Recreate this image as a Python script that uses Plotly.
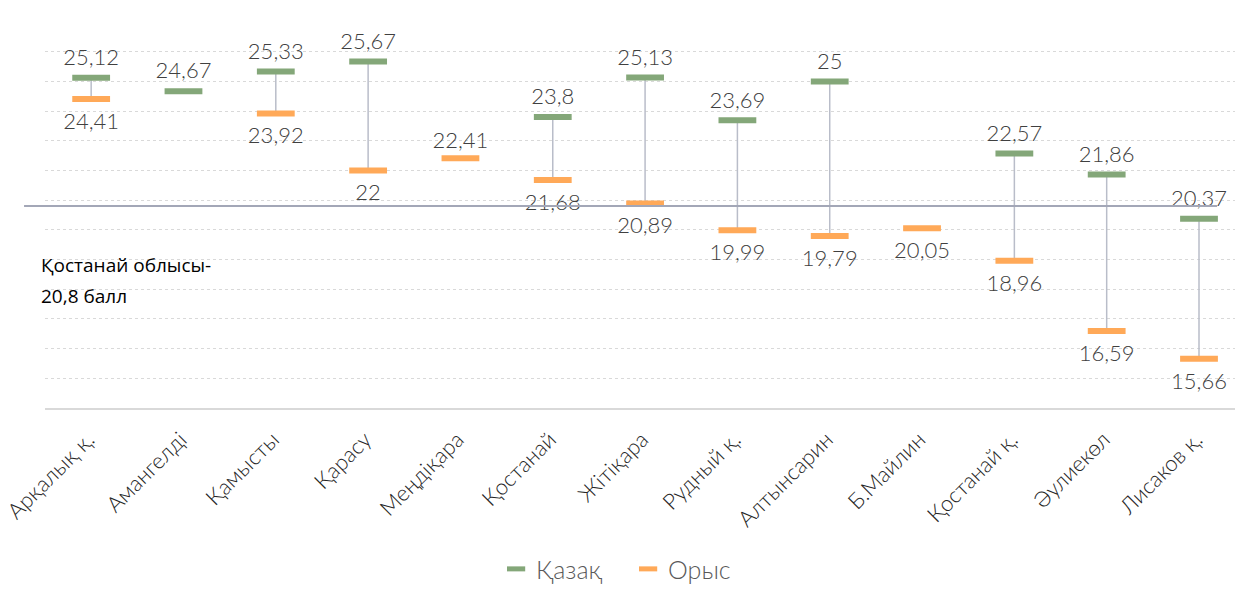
import plotly.graph_objects as go

categories = ["Арқалық қ.", "Амангелді", "Қамысты", "Қарасу", "Меңдіқара", "Қостанай",
              "Жітіқара", "Рудный қ.", "Алтынсарин", "Б.Майлин", "Қостанай қ.",
              "Әулиекөл", "Лисаков қ."]
kazakh = [25.12, 24.67, 25.33, 25.67, None, 23.8, 25.13, 23.69, 25, None, 22.57, 21.86, 20.37]
russian = [24.41, None, 23.92, 22, 22.41, 21.68, 20.89, 19.99, 19.79, 20.05, 18.96, 16.59, 15.66]
region_avg = 20.8

GREEN = "#84a779"
ORANGE = "#ffa958"
LIGHT = "Lato Light, Lato"
LABEL_FONT = dict(family=LIGHT, size=22, color="#404040", weight=300)


def fmt(v):
    return "" if v is None else f"{v:g}".replace(".", ",")


fig = go.Figure()

# vertical connectors between the two values
cx, cy = [], []
for c, k, r in zip(categories, kazakh, russian):
    if k is not None and r is not None:
        cx += [c, c, None]
        cy += [k, r, None]
fig.add_trace(go.Scatter(x=cx, y=cy, mode="lines", line=dict(color="#b9bdc9", width=1.5),
                         hoverinfo="skip", showlegend=False))

fig.add_trace(go.Scatter(
    x=categories, y=kazakh, name="Қазақ", mode="markers", showlegend=False,
    marker=dict(symbol="line-ew", size=27, line=dict(color=GREEN, width=6)),
))
fig.add_trace(go.Scatter(
    x=categories, y=russian, name="Орыс", mode="markers", showlegend=False,
    marker=dict(symbol="line-ew", size=27, line=dict(color=ORANGE, width=6)),
))

# data labels (invisible markers only set the label offset)
fig.add_trace(go.Scatter(
    x=categories, y=kazakh, mode="markers+text", showlegend=False, hoverinfo="skip",
    marker=dict(size=10, opacity=0),
    text=[fmt(v) for v in kazakh], textposition="top center", textfont=LABEL_FONT,
))
russian_pos = ["top center" if c == "Меңдіқара" else "bottom center" for c in categories]
fig.add_trace(go.Scatter(
    x=categories, y=russian, mode="markers+text", showlegend=False, hoverinfo="skip",
    marker=dict(size=[6 if c == "Меңдіқара" else 20 for c in categories], opacity=0),
    text=[fmt(v) for v in russian], textposition=russian_pos, textfont=LABEL_FONT,
))

# legend entries
for name, col in [("Қазақ", GREEN), ("Орыс", ORANGE)]:
    fig.add_trace(go.Scatter(x=[None], y=[None], name=name, mode="markers",
                             marker=dict(symbol="line-ew", size=13, line=dict(color=col, width=5))))

fig.add_shape(type="line", xref="paper", yref="y", x0=-0.0176, x1=0.985,
              y0=region_avg, y1=region_avg, line=dict(color="#a3a7b7", width=2))

fig.add_annotation(text="Қостанай облысы-", xref="paper", yref="paper", x=-0.005, y=0.370,
                   xanchor="left", yanchor="middle", showarrow=False,
                   font=dict(family="Open Sans", size=19, color="#000000"))
fig.add_annotation(text=f"{region_avg:g}".replace(".", ",") + " балл", xref="paper", yref="paper",
                   x=-0.005, y=0.290, xanchor="left", yanchor="middle", showarrow=False,
                   font=dict(family="Open Sans", size=19, color="#000000"))

fig.update_layout(
    width=1235, height=594,
    margin=dict(l=45, r=0, t=22, b=186),
    plot_bgcolor="white", paper_bgcolor="white",
    font=dict(family=LIGHT),
    xaxis=dict(type="category", categoryorder="array", categoryarray=categories,
               range=[-0.5, 12.39], showgrid=False, automargin=False,
               showline=True, linecolor="#d9d9d9", linewidth=2,
               tickangle=-45, ticklabelstandoff=8, ticklabelshift=-3,
               tickfont=dict(family=LIGHT, size=22, color="#262626", weight=300)),
    yaxis=dict(range=[14, 27], dtick=1, showticklabels=False, zeroline=False, automargin=False,
               gridcolor="#d9d9d9", griddash="3px,3px", gridwidth=1),
    legend=dict(orientation="h", x=0.49, xanchor="center", y=-0.477, yanchor="bottom",
                font=dict(family=LIGHT, size=25, color="#595959", weight=300),
                itemwidth=30, entrywidth=87),
)

# drop the default page margin so the figure sits at the window's corner
fig.write_html("out.html", config={"displayModeBar": False},
               post_script="document.body.style.margin = '0';")
